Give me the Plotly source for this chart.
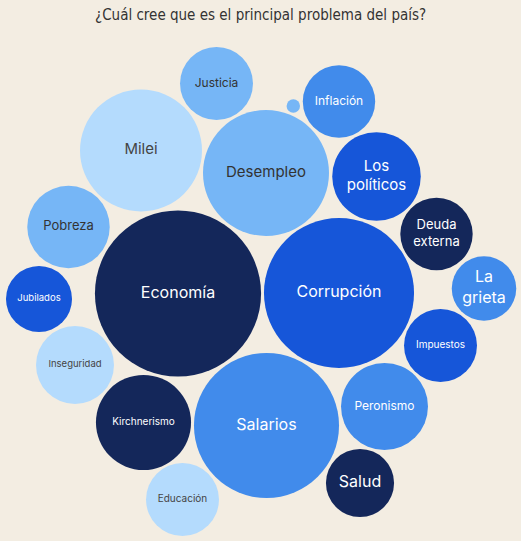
import math
import plotly.graph_objects as go

# ---- data ----
categories = ["Economía", "Corrupción", "Salarios", "Desempleo", "Milei",
              "Kirchnerismo", "Los<br>políticos", "Peronismo", "Pobreza",
              "Inseguridad", "Justicia", "Deuda<br>externa", "Impuestos",
              "Educación", "Inflación", "Salud", "Jubilados", "La<br>grieta", ""]
values = [69.0, 56.3, 52.6, 39.7, 37.2, 22.6, 19.6, 18.9, 17.0, 15.2,
          13.3, 13.1, 13.3, 13.3, 13.1, 11.6, 10.9, 10.4, 0.45]
groups = ["navy", "royal", "mid", "light", "pale", "navy", "royal", "mid", "light",
          "pale", "light", "navy", "royal", "pale", "mid", "navy", "royal", "mid", "light"]
# packed-layout centres (pixel space of the chart)
pos_x = [178, 339, 266.5, 266, 141, 143.5, 376.5, 384.5, 68.5, 75, 216.5,
         436.5, 440.5, 182.5, 339, 360, 39, 484, 293.3]
pos_y = [293.5, 293, 425.5, 173, 150.5, 422.5, 176.5, 406.5, 227, 365, 83.5,
         234, 345.5, 499.5, 101.5, 483, 299, 288.5, 106]

# ---- styles ----
palette = {"navy": "#14275A", "royal": "#1656D9", "mid": "#418BEB",
           "light": "#76B6F6", "pale": "#B4DBFD"}
text_col = {"navy": "#FFFFFF", "royal": "#FFFFFF", "mid": "#FFFFFF",
            "light": "#333333", "pale": "#444444"}
font_sizes = [16, 16, 16, 15, 15, 10, 15, 12, 13, 9.5, 12, 13, 10,
              10, 12, 16, 9.5, 16, 8]
BG = "#F3EDE2"

diam = [2 * math.sqrt(v * 100) for v in values]

fig = go.Figure()
fig.add_trace(go.Scatter(
    x=pos_x, y=pos_y, mode="markers+text",
    text=categories, textposition="middle center", cliponaxis=False,
    marker=dict(size=diam, sizemode="diameter", sizeref=1,
                color=[palette[g] for g in groups], line=dict(width=0), opacity=1),
    textfont=dict(family="Inter, Roboto, sans-serif",
                  size=font_sizes, color=[text_col[g] for g in groups]),
    hoverinfo="text", showlegend=False,
))

fig.add_annotation(x=260.5, y=15, xref="x", yref="y",
                   text="¿Cuál cree que es el principal problema del país?",
                   showarrow=False,
                   font=dict(family="DejaVu Sans Condensed, Liberation Sans Narrow, Roboto, sans-serif",
                             size=15, color="#333333"))

fig.update_layout(
    width=521, height=541, margin=dict(l=0, r=0, t=0, b=0),
    paper_bgcolor=BG, plot_bgcolor=BG,
    xaxis=dict(range=[0, 521], visible=False, fixedrange=True),
    yaxis=dict(range=[541, 0], visible=False, fixedrange=True),
)

fig.write_html("out.html", config={"displayModeBar": False},
               post_script="document.body.style.margin='0';document.body.style.overflow='hidden';")
